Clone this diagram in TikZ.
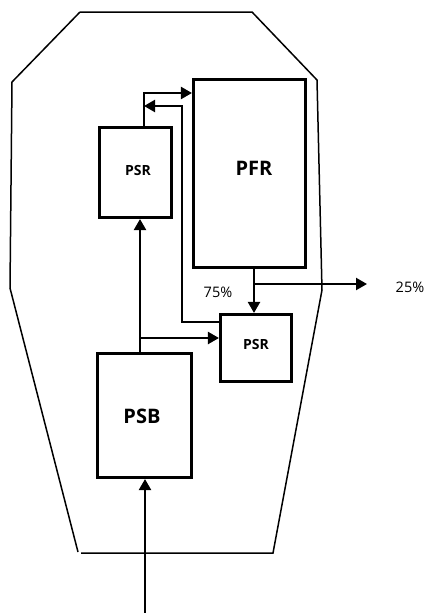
\documentclass[tikz,border=0pt]{standalone}
\usepackage{fontspec}
\setmainfont{Open Sans}
\usetikzlibrary{arrows.meta}
\tikzset{
  box/.style={draw, line width=2.6pt, rectangle, inner sep=0pt},
  arr/.style={line width=2.2pt, -{Triangle[length=11pt,width=12pt]}},
  outline/.style={line width=1.5pt, line join=miter},
  pct/.style={font=\fontsize{14.5}{17}\selectfont, inner sep=0pt},
  small/.style={font=\bfseries\fontsize{14}{16}\selectfont, inner sep=0pt},
  big/.style={font=\bfseries\fontsize{20}{24}\selectfont, inner sep=0pt}
}
\begin{document}
\begin{tikzpicture}[x=1pt,y=-1pt]
\useasboundingbox (0,0) rectangle (426,613);
% outer vessel
\draw[outline] (80,12) -- (252,12) -- (317,80) -- (322,290) -- (273,553) -- (81,553);
\draw[outline] (78,552) -- (10,288) -- (12,82) -- (80,12);
% boxes
\node[box, minimum width=72.5pt, minimum height=90.5pt] (psr1) at (135.5,172.5) {};
\node[small] (psr1label) at (138,170) {PSR};
\node[box, minimum width=112.5pt, minimum height=188.5pt] (pfr) at (249.5,173.5) {};
\node[big] (pfrlabel) at (254,168) {PFR};
\node[box, minimum width=71.5pt, minimum height=67.5pt] (psr2) at (256,348) {};
\node[small] (psr2label) at (256,344) {PSR};
\node[box, minimum width=94.5pt, minimum height=124.5pt] (psb) at (144.5,415.5) {};
\node[big] (psblabel) at (142,416) {PSB};
% labels
\node[pct] (p75) at (218,292) {75\%};
\node[pct] (p25) at (410,287) {25\%};
% helper coordinates
\coordinate (xa) at (140,0);
\coordinate (xb) at (144,0);
\coordinate (xc) at (182,0);
\coordinate (xd) at (254,0);
\coordinate (xe) at (145,0);
\coordinate (ya) at (0,338);
\coordinate (yb) at (0,93);
\coordinate (yc) at (0,106);
\coordinate (yd) at (0,322);
\coordinate (j1) at (140,338);
\coordinate (j2) at (254,284);
\coordinate (out25) at (367,284);
\coordinate (in) at (145,613);
% connectors
\draw[arr] (psb.north -| xa) -- (psr1.south -| xa);
\draw[arr] (j1) -- (psr2.west |- ya);
\draw[arr] (psr1.north -| xb) |- (pfr.west |- yb);
\draw[arr] (psr2.west |- yd) -| (xc |- yc) -- (xb |- yc);
\draw[arr] (pfr.south -| xd) -- (psr2.north -| xd);
\draw[arr] (j2) -- (out25);
\draw[arr] (in) -- (psb.south -| xe);
\end{tikzpicture}
\end{document}
